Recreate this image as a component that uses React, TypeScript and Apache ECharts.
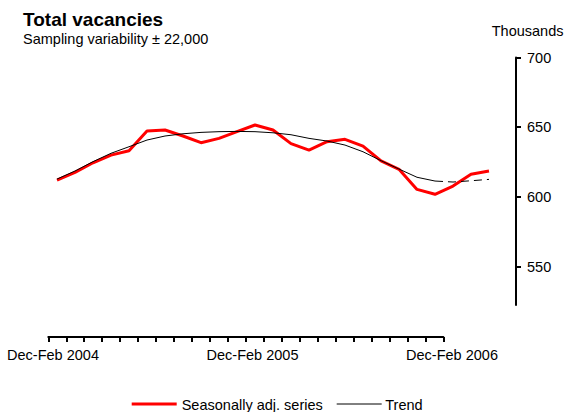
import React, { useEffect, useRef } from "react";
import * as echarts from "echarts";

const months: string[] = [
  "Dec-Feb 2004", "Jan-Mar 2004", "Feb-Apr 2004", "Mar-May 2004", "Apr-Jun 2004", "May-Jul 2004",
  "Jun-Aug 2004", "Jul-Sep 2004", "Aug-Oct 2004", "Sep-Nov 2004", "Oct-Dec 2004", "Nov-Jan 2005",
  "Dec-Feb 2005", "Jan-Mar 2005", "Feb-Apr 2005", "Mar-May 2005", "Apr-Jun 2005", "May-Jul 2005",
  "Jun-Aug 2005", "Jul-Sep 2005", "Aug-Oct 2005", "Sep-Nov 2005", "Oct-Dec 2005", "Nov-Jan 2006",
  "Dec-Feb 2006",
];

const seasonallyAdjusted: number[] = [
  612.1, 617.6, 624.5, 630.0, 633.1, 647.3, 648.0, 643.7, 638.9, 642.0, 646.8, 651.6,
  648.0, 638.2, 633.6, 639.6, 641.3, 636.5, 625.8, 619.8, 605.4, 601.9, 607.8, 616.2, 618.6,
];

const trend: number[] = [
  612.8, 618.6, 625.3, 631.3, 636.0, 640.8, 643.7, 645.3, 646.3, 646.8, 647.0, 646.8,
  646.0, 644.6, 642.0, 640.1, 637.2, 632.4, 626.0, 620.0, 614.1, 611.4, 610.7, 611.6, 612.6,
];

const trendDashFrom = 21;

const bottomLabels: string[] = ["Dec-Feb 2004", "Dec-Feb 2005", "Dec-Feb 2006"];
const yTicks: number[] = [550, 600, 650, 700];

const FONT = "'Liberation Sans', Arial, sans-serif";

export default function App() {
  const ref = useRef<HTMLDivElement>(null);

  useEffect(() => {
    if (!ref.current) return;
    const chart = echarts.init(ref.current, null, { renderer: "svg" });

    const trendSolid = trend.map((v, i) => (i <= trendDashFrom ? v : null));
    const trendDashed = trend.map((v, i) => (i >= trendDashFrom ? v : null));

    chart.setOption({
      animation: false,
      backgroundColor: "#ffffff",
      textStyle: { fontFamily: FONT },
      grid: [
        { left: 57, right: 77, top: 57.5, bottom: 107 },
        { left: 48.3, width: 395, top: 300, height: 37 },
        { left: 53, width: 399, top: 300, height: 37 },
      ],
      xAxis: [
        {
          gridIndex: 0,
          type: "category",
          data: months,
          boundaryGap: false,
          show: false,
        },
        {
          gridIndex: 1,
          type: "value",
          min: 0,
          max: 22,
          interval: 1,
          axisLine: { show: true, lineStyle: { color: "#000", width: 2 } },
          axisTick: { show: true, length: 5, lineStyle: { color: "#000", width: 2 } },
          axisLabel: { show: false },
          splitLine: { show: false },
        },
        {
          gridIndex: 2,
          type: "value",
          min: 0,
          max: 2,
          interval: 1,
          axisLine: { show: false },
          axisTick: { show: false },
          splitLine: { show: false },
          axisLabel: {
            show: true,
            margin: 10,
            color: "#000",
            fontSize: 14.5,
            fontFamily: FONT,
            formatter: (v: number) => bottomLabels[Math.round(v)] ?? "",
          },
        },
      ],
      yAxis: [
        {
          gridIndex: 0,
          type: "value",
          position: "right",
          offset: 27,
          min: 522.5,
          max: 700,
          axisLine: { show: true, lineStyle: { color: "#000", width: 2 } },
          axisTick: {
            show: true,
            length: 5,
            customValues: yTicks,
            lineStyle: { color: "#000", width: 2 },
          },
          axisLabel: {
            show: true,
            customValues: yTicks,
            margin: 11,
            color: "#000",
            fontSize: 14.5,
            fontFamily: FONT,
          },
          splitLine: { show: false },
        },
        { gridIndex: 1, type: "value", show: false },
        { gridIndex: 2, type: "value", show: false },
      ],
      graphic: [
        {
          type: "text",
          left: 23,
          top: 9.5,
          style: {
            text: "Total vacancies",
            font: `bold 19px ${FONT}`,
            lineHeight: 18,
            fill: "#000",
          },
        },
        {
          type: "text",
          left: 23,
          top: 31.2,
          style: {
            text: "Sampling variability \u00b1 22,000",
            font: `14.5px ${FONT}`,
            fill: "#000",
          },
        },
        {
          type: "text",
          right: 2.5,
          top: 23,
          style: {
            text: "Thousands",
            font: `14.5px ${FONT}`,
            fill: "#000",
          },
        },
        {
          type: "line",
          shape: { x1: 131.7, y1: 404, x2: 176.7, y2: 404 },
          style: { stroke: "#ff0000", lineWidth: 3 },
        },
        {
          type: "text",
          x: 181.7,
          y: 397.5,
          style: {
            text: "Seasonally adj. series",
            font: `14.5px ${FONT}`,
            fill: "#000",
          },
        },
        {
          type: "line",
          shape: { x1: 336.7, y1: 404, x2: 381.7, y2: 404 },
          style: { stroke: "#000", lineWidth: 1 },
        },
        {
          type: "text",
          x: 385.3,
          y: 397.5,
          style: {
            text: "Trend",
            font: `14.5px ${FONT}`,
            fill: "#000",
          },
        },
      ],
      series: [
        {
          name: "Seasonally adj. series",
          type: "line",
          xAxisIndex: 0,
          yAxisIndex: 0,
          data: seasonallyAdjusted,
          showSymbol: false,
          lineStyle: { color: "#ff0000", width: 3 },
          itemStyle: { color: "#ff0000" },
        },
        {
          name: "Trend",
          type: "line",
          xAxisIndex: 0,
          yAxisIndex: 0,
          data: trendSolid,
          showSymbol: false,
          lineStyle: { color: "#000", width: 1 },
          itemStyle: { color: "#000" },
        },
        {
          name: "Trend (projected)",
          type: "line",
          xAxisIndex: 0,
          yAxisIndex: 0,
          data: trendDashed,
          showSymbol: false,
          lineStyle: { color: "#000", width: 1, type: [8, 5] },
          itemStyle: { color: "#000" },
        },
      ],
    });

    return () => chart.dispose();
  }, []);

  return (
    <div
      ref={ref}
      style={{ position: "fixed", left: 0, top: 0, width: 566, height: 412 }}
    />
  );
}
